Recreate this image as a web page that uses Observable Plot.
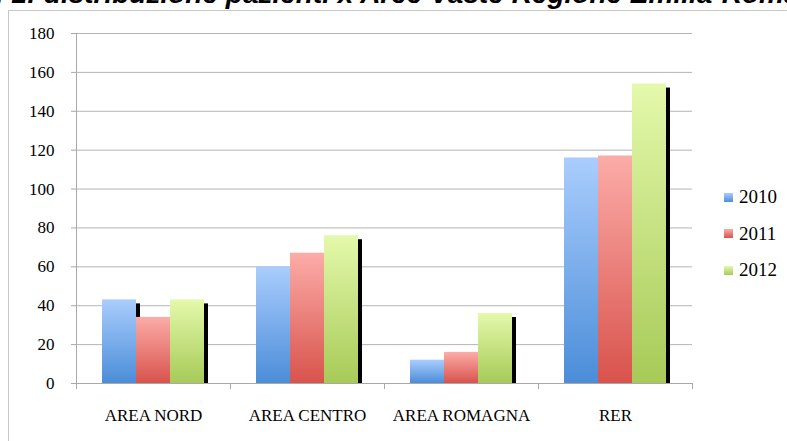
<!DOCTYPE html>
<html><head><meta charset="utf-8">
<script src="https://cdn.jsdelivr.net/npm/d3@7"></script>
<script src="https://cdn.jsdelivr.net/npm/@observablehq/plot@0.6"></script>
<style>
html,body{margin:0;padding:0;background:#fff;overflow:hidden;width:787px;height:441px;}
#wrap{position:relative;width:787px;height:441px;overflow:hidden;}
#title{position:absolute;left:-62px;top:-22px;line-height:28px;white-space:nowrap;font:italic bold 28px "Liberation Sans",Arial,sans-serif;color:#000;}
#border{position:absolute;left:8px;top:10px;width:900px;height:500px;border:1px solid #c8c8c8;}
#chart{position:absolute;left:0;top:0;}
#legend{position:absolute;left:724px;top:179px;font:19px "Liberation Serif",serif;color:#000;}
#legend .row{display:flex;align-items:center;height:36.5px;}
#legend .sw{display:inline-block;width:9px;height:9px;margin-right:6px;}
</style></head>
<body>
<div id="wrap">
  <div id="title">Graf. 1: distribuzione pazienti x Aree Vaste Regione Emilia-Romagna</div>
  <div id="border"></div>
  <div id="chart"></div>
  <div id="legend"></div>
</div>
<script>
const areas = ["AREA NORD", "AREA CENTRO", "AREA ROMAGNA", "RER"];
const years = ["2010", "2011", "2012"];
const v2010 = [43, 60, 12, 116];
const v2011 = [34, 67, 16, 117];
const v2012 = [43, 76, 36, 154];
const yTicks = [0, 20, 40, 60, 80, 100, 120, 140, 160, 180];
const gradTop = ["#aacdfd", "#fcaca8", "#e4f9ab"];
const gradBottom = ["#4b8dd8", "#d8534c", "#a7ca58"];

const series = [v2010, v2011, v2012];
const data = areas.flatMap((a, i) => years.map((yr, j) => ({area: a, year: yr, value: series[j][i]})));

const chart = Plot.plot({
  width: 787,
  height: 441,
  marginLeft: 76,
  marginRight: 95,
  marginTop: 33,
  marginBottom: 58,
  style: {fontFamily: "'Liberation Serif', serif", fontSize: "17px", color: "#000", background: "transparent", overflow: "visible"},
  fx: {domain: areas, padding: 0, axis: "bottom", tickSize: 0, tickPadding: 25, label: null},
  x: {domain: years, paddingInner: 0, paddingOuter: 0.74, axis: null},
  y: {domain: [0, 180], ticks: yTicks, tickSize: 5, tickPadding: 17, label: null},
  color: {domain: years, range: years.map(y => `url(#g${y})`)},
  marks: [
    Plot.ruleY(yTicks.slice(1), {stroke: "#b4b4b4", strokeWidth: 1}),
    Plot.barY(data, {fx: "area", x: "year", y: "value", fill: "#000", dx: 4, dy: 4, insetBottom: 4}),
    Plot.barY(data, {fx: "area", x: "year", y: "value", fill: "year"})
  ]
});

// gradients
const svg = d3.select(chart);
const defs = svg.insert("defs", ":first-child");
years.forEach((y, j) => {
  const g = defs.append("linearGradient").attr("id", `g${y}`).attr("x1", 0).attr("y1", 0).attr("x2", 0).attr("y2", 1);
  g.append("stop").attr("offset", "0%").attr("stop-color", gradTop[j]);
  g.append("stop").attr("offset", "100%").attr("stop-color", gradBottom[j]);
});
svg.selectAll("[aria-label='y-axis tick'] path, [aria-label='y-axis tick'] line").attr("stroke", "#a8a8a8");

// axis lines from scales
const fxs = chart.scale("fx"), ys = chart.scale("y");
const bounds = areas.map(a => fxs.apply(a)).concat([fxs.range[1]]);
const y0 = ys.apply(0), yTop = ys.apply(180);
const g = svg.append("g").attr("stroke", "#a8a8a8").attr("shape-rendering", "crispEdges");
g.append("line").attr("x1", bounds[0]).attr("x2", bounds[0]).attr("y1", yTop).attr("y2", y0);
g.append("line").attr("x1", bounds[0]).attr("x2", bounds[bounds.length - 1]).attr("y1", y0).attr("y2", y0);
bounds.forEach(b => g.append("line").attr("x1", b).attr("x2", b).attr("y1", y0).attr("y2", y0 + 6));

document.getElementById("chart").append(chart);

// legend
const leg = document.getElementById("legend");
years.forEach((y, j) => {
  const row = document.createElement("div");
  row.className = "row";
  const sw = document.createElement("span");
  sw.className = "sw";
  sw.style.background = `linear-gradient(${gradTop[j]}, ${gradBottom[j]})`;
  row.append(sw, document.createTextNode(y));
  leg.append(row);
});
</script>
</body></html>
